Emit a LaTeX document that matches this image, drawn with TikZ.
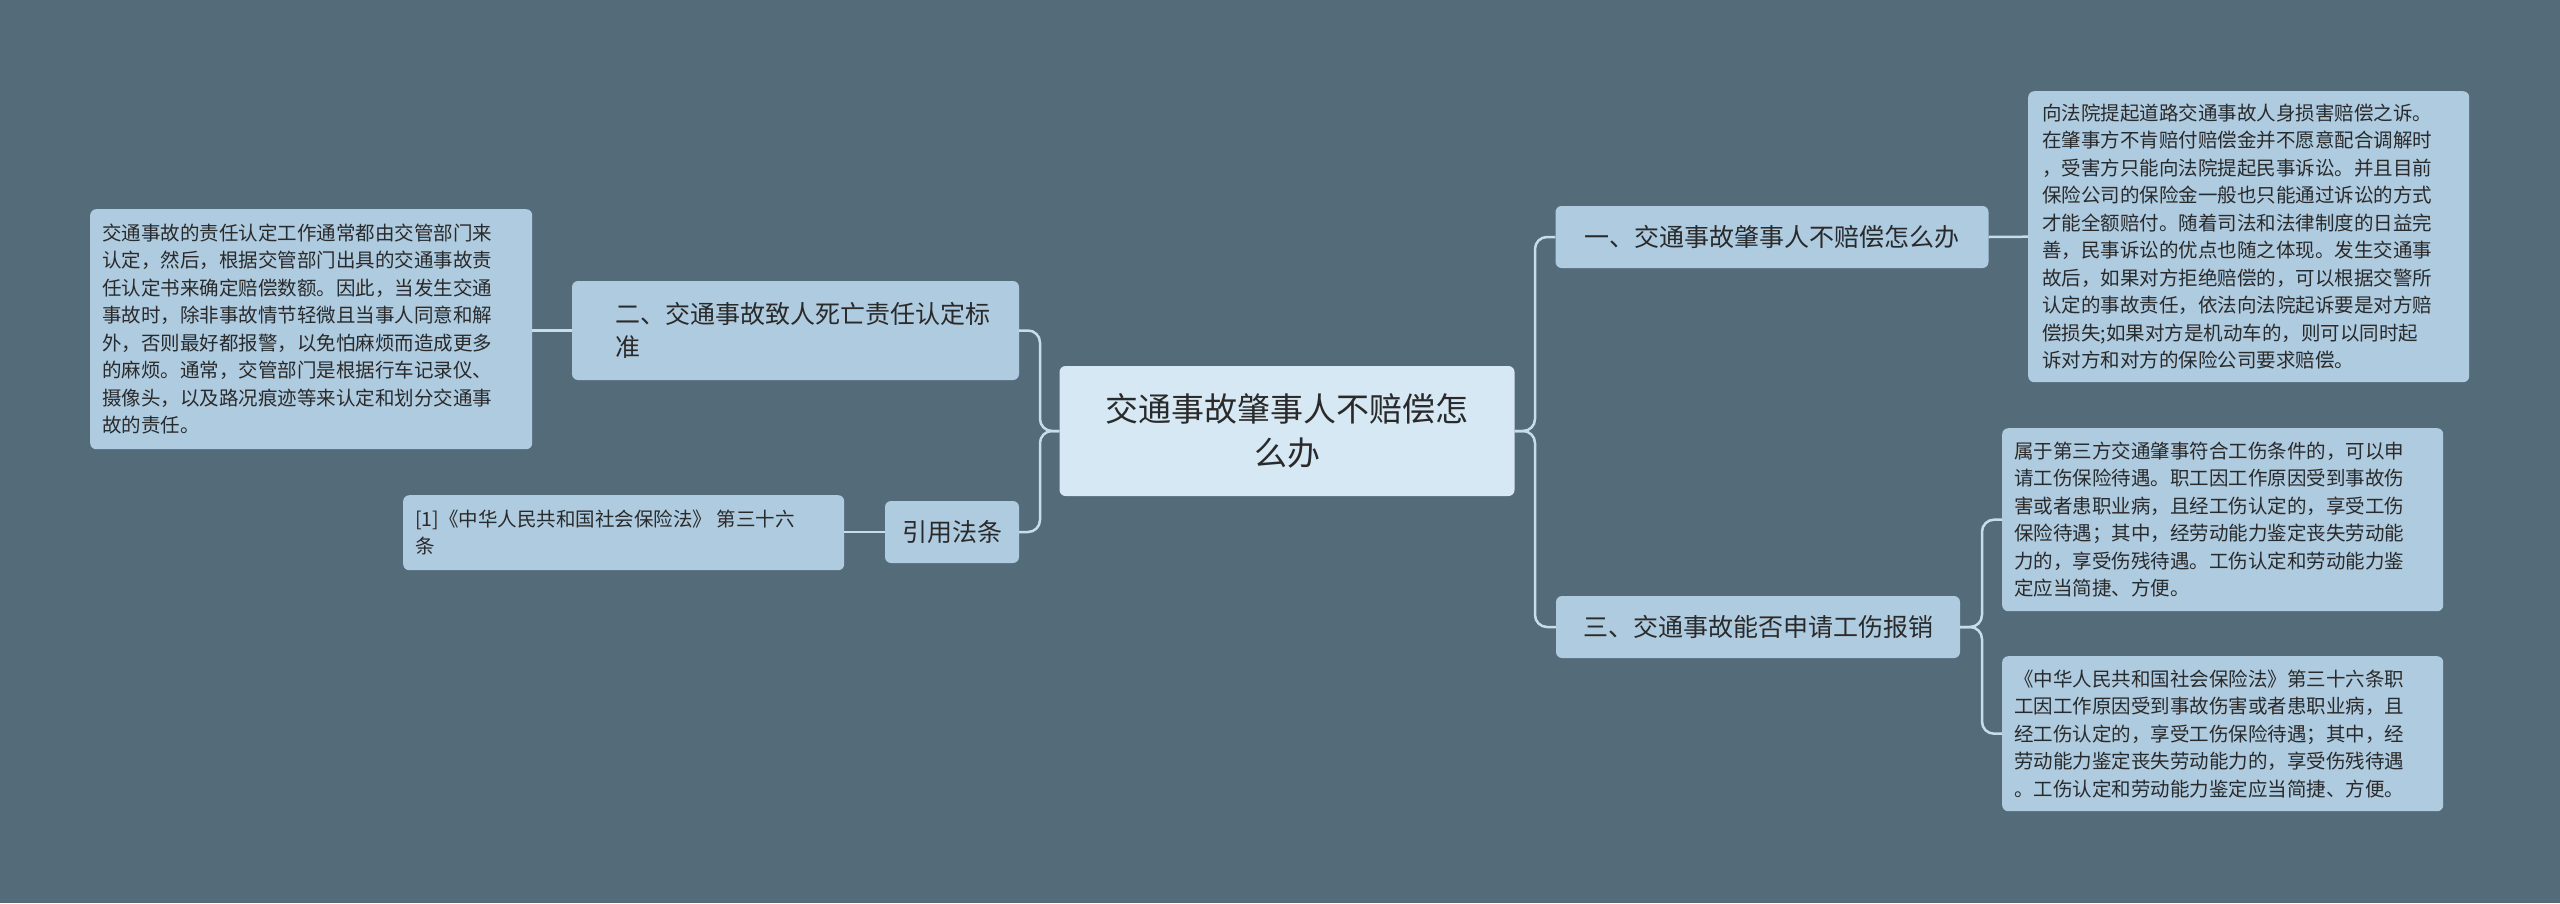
\documentclass[tikz,border=0pt]{standalone}
\usepackage{fontspec}
\setmainfont{Noto Sans CJK SC}
\begin{document}
\begin{tikzpicture}[x=1pt,y=-1pt,
 leaf/.style={fill=leafc,rounded corners=6pt,align=left,anchor=north west,inner sep=0pt,text=textc,font=\fontsize{19.5}{27.5}\selectfont},
 br/.style={fill=leafc,rounded corners=6pt,align=left,inner sep=0pt,text=textc,font=\fontsize{25}{33}\selectfont},
 conn/.style={draw=linec,line width=2.5pt,rounded corners=12pt}]
\definecolor{bgc}{HTML}{546B7A}
\definecolor{leafc}{HTML}{AECBE0}
\definecolor{centc}{HTML}{D5E8F3}
\definecolor{linec}{HTML}{C8DDEA}
\definecolor{textc}{HTML}{2A2A2A}
\fill[bgc] (0,0) rectangle (2560,903);
\useasboundingbox (0,0) rectangle (2560,903);
% center
\node[fill=centc,rounded corners=6pt,minimum width=455pt,minimum height=130pt,align=center,text=textc,font=\fontsize{33}{44}\selectfont] (c) at (1287,431) {交通事故肇事人不赔偿怎\\么办};
% branches
\node[br,minimum width=433pt,minimum height=62pt] (b1) at (1772,237) {\hspace*{14pt}一、交通事故肇事人不赔偿怎么办\hspace*{14pt}};
\node[br,minimum width=404pt,minimum height=62pt] (b3) at (1758,627) {\hspace*{14pt}三、交通事故能否申请工伤报销\hspace*{14pt}};
\node[br,minimum width=447pt,minimum height=99pt] (b2) at (795.5,330.5) {\hspace*{14pt}二、交通事故致人死亡责任认定标\\\hspace*{14pt}准};
\node[br,minimum width=134pt,minimum height=62pt,align=center] (b4) at (952,532) {引用法条};
% leaves
\node[leaf,minimum width=441pt,minimum height=291pt] (l1) at (2028,91) {\rule{0pt}{0pt}\begin{minipage}[t][291pt][c]{441pt}\hspace*{14pt}\begin{minipage}{414pt}\fontsize{19.5}{27.5}\selectfont
向法院提起道路交通事故人身损害赔偿之诉。\\在肇事方不肯赔付赔偿金并不愿意配合调解时\\，受害方只能向法院提起民事诉讼。并且目前\\保险公司的保险金一般也只能通过诉讼的方式\\才能全额赔付。随着司法和法律制度的日益完\\善，民事诉讼的优点也随之体现。发生交通事\\故后，如果对方拒绝赔偿的，可以根据交警所\\认定的事故责任，依法向法院起诉要是对方赔\\偿损失;如果对方是机动车的，则可以同时起\\诉对方和对方的保险公司要求赔偿。\end{minipage}\end{minipage}};
\node[leaf] (l2) at (90,209) {\begin{minipage}[t][240pt][c]{442pt}\hspace*{12pt}\begin{minipage}{418pt}\fontsize{19.5}{27.5}\selectfont
交通事故的责任认定工作通常都由交管部门来\\认定，然后，根据交管部门出具的交通事故责\\任认定书来确定赔偿数额。因此，当发生交通\\事故时，除非事故情节轻微且当事人同意和解\\外，否则最好都报警，以免怕麻烦而造成更多\\的麻烦。通常，交管部门是根据行车记录仪、\\摄像头，以及路况痕迹等来认定和划分交通事\\故的责任。\end{minipage}\end{minipage}};
\node[leaf] (l4) at (403,495) {\begin{minipage}[t][75pt][c]{441pt}\hspace*{12pt}\begin{minipage}{418pt}\fontsize{19.5}{27.5}\selectfont
[1]《中华人民共和国社会保险法》 第三十六\\条\end{minipage}\end{minipage}};
\node[leaf] (l3a) at (2002,428) {\begin{minipage}[t][183pt][c]{441pt}\hspace*{12pt}\begin{minipage}{420pt}\fontsize{19.5}{27.5}\selectfont
属于第三方交通肇事符合工伤条件的，可以申\\请工伤保险待遇。职工因工作原因受到事故伤\\害或者患职业病，且经工伤认定的，享受工伤\\保险待遇；其中，经劳动能力鉴定丧失劳动能\\力的，享受伤残待遇。工伤认定和劳动能力鉴\\定应当简捷、方便。\end{minipage}\end{minipage}};
\node[leaf] (l3b) at (2002,656) {\begin{minipage}[t][155pt][c]{441pt}\hspace*{12pt}\begin{minipage}{420pt}\fontsize{19.5}{27.5}\selectfont
《中华人民共和国社会保险法》第三十六条职\\工因工作原因受到事故伤害或者患职业病，且\\经工伤认定的，享受工伤保险待遇；其中，经\\劳动能力鉴定丧失劳动能力的，享受伤残待遇\\。工伤认定和劳动能力鉴定应当简捷、方便。\end{minipage}\end{minipage}};
% connectors
\coordinate (jr) at (1535,431);
\coordinate (jl) at (1040,431);
\coordinate (j3) at (1982,627);
\draw[conn] (c.east) -- (jr) |- (b1.west);
\draw[conn] (c.east) -- (jr) |- (b3.west);
\draw[conn] (c.west) -- (jl) |- (b2.east);
\draw[conn] (c.west) -- (jl) |- (b4.east);
\draw[conn] (b1.east) -- (l1.west);
\draw[conn] (b2.west) -- (l2.east |- b2.west);
\draw[conn] (b4.west) -- (l4.east |- b4.west);
\draw[conn] (b3.east) -- (j3) |- (l3a.west);
\draw[conn] (b3.east) -- (j3) |- (l3b.west);
\end{tikzpicture}
\end{document}
